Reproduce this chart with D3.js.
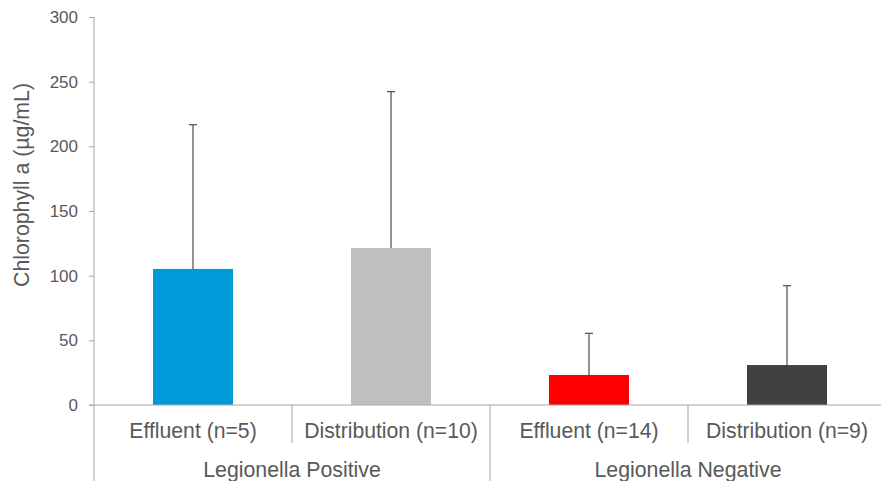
<!DOCTYPE html>
<html>
<head>
<meta charset="utf-8">
<script src="https://cdn.jsdelivr.net/npm/d3@7"></script>
<style>
  html, body { margin: 0; padding: 0; background: #fff; }
  svg { display: block; font-family: "Liberation Sans", Arial, sans-serif; }
</style>
</head>
<body>
<svg id="chart" width="881" height="481"></svg>
<script>
// ---- data ----
const categories = ["Effluent (n=5)", "Distribution (n=10)", "Effluent (n=14)", "Distribution (n=9)"];
const groups = ["Legionella Positive", "Legionella Negative"];
const groupOf = [0, 0, 1, 1];
const means = [105.2, 121.4, 23.2, 30.9];
const sds = [111.5, 120.9, 32.2, 61.4];
const colors = ["#009ad8", "#bfbfbf", "#ff0000", "#404040"];
const yTicks = [0, 50, 100, 150, 200, 250, 300];
const yTitle = "Chlorophyll a (µg/mL)";

// ---- layout ----
const W = 881, H = 481;
const mLeft = 94, mRight = 886, mTop = 17, mBottom = 405;
const axisColor = "#a6a6a6", textColor = "#595959";

const svg = d3.select("#chart");

const y = d3.scaleLinear().domain([0, 300]).range([mBottom, mTop]);
const x = d3.scaleBand().domain(categories).range([mLeft, mRight])
  .paddingInner(0.596).paddingOuter(0.298).align(0.5);
const xCell = d3.scaleBand().domain(categories).range([mLeft, mRight]).padding(0);

// y axis
const yAxis = d3.axisLeft(y).tickValues(yTicks).tickSize(5).tickPadding(11).tickFormat(d3.format("d"));
const gy = svg.append("g").attr("transform", `translate(${mLeft},0)`).call(yAxis);
gy.select(".domain").remove();
gy.selectAll(".tick line").attr("stroke", axisColor);
gy.selectAll(".tick text").attr("fill", textColor).attr("font-size", 17)
  .attr("font-family", "Liberation Sans, Arial, sans-serif");
svg.append("line").attr("x1", mLeft).attr("x2", mLeft).attr("y1", mTop).attr("y2", H)
  .attr("stroke", axisColor).attr("stroke-width", 1);

// bars
svg.append("g").selectAll("rect").data(categories).join("rect")
  .attr("x", d => x(d))
  .attr("width", x.bandwidth())
  .attr("y", (d, i) => y(means[i]))
  .attr("height", (d, i) => y(0) - y(means[i]))
  .attr("fill", (d, i) => colors[i]);

// error bars (upper)
const eg = svg.append("g").attr("stroke", "#595959").attr("stroke-width", 1.3);
categories.forEach((c, i) => {
  const cx = x(c) + x.bandwidth() / 2;
  eg.append("line").attr("x1", cx).attr("x2", cx)
    .attr("y1", y(means[i])).attr("y2", y(means[i] + sds[i]));
  eg.append("line").attr("x1", cx - 4).attr("x2", cx + 4)
    .attr("y1", y(means[i] + sds[i])).attr("y2", y(means[i] + sds[i]));
});

// x axis line
svg.append("line").attr("x1", mLeft - 5).attr("x2", W).attr("y1", mBottom).attr("y2", mBottom)
  .attr("stroke", axisColor).attr("stroke-width", 1);

// category dividers
categories.forEach((c, i) => {
  if (i === 0) return;
  const xx = xCell(c);
  const isGroupBoundary = groupOf[i] !== groupOf[i - 1];
  svg.append("line").attr("x1", xx).attr("x2", xx)
    .attr("y1", mBottom).attr("y2", isGroupBoundary ? H : 443)
    .attr("stroke", axisColor).attr("stroke-width", 1);
});

// category labels
svg.append("g").selectAll("text").data(categories).join("text")
  .attr("x", d => xCell(d) + xCell.bandwidth() / 2)
  .attr("y", 438)
  .attr("text-anchor", "middle")
  .attr("font-size", 21.2)
  .attr("fill", textColor)
  .text(d => d);

// group labels
groups.forEach((g, gi) => {
  const cats = categories.filter((c, i) => groupOf[i] === gi);
  const x0 = xCell(cats[0]);
  const x1 = xCell(cats[cats.length - 1]) + xCell.bandwidth();
  svg.append("text")
    .attr("x", (x0 + x1) / 2).attr("y", 476.5)
    .attr("text-anchor", "middle").attr("font-size", 21.3).attr("fill", textColor)
    .text(g);
});

// y title
svg.append("text")
  .attr("transform", `translate(29,185) rotate(-90)`)
  .attr("text-anchor", "middle")
  .attr("font-size", 21.3)
  .attr("fill", textColor)
  .text(yTitle);
</script>
</body>
</html>
